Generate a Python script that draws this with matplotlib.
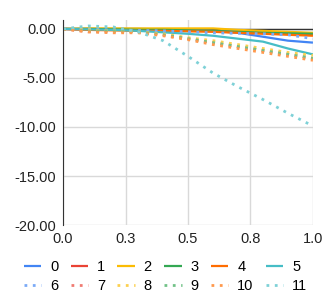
import matplotlib
matplotlib.use('Agg')
import matplotlib.pyplot as plt

plt.rcParams['font.family'] = ['Liberation Sans', 'DejaVu Sans']

# x positions and series values
x = [0.0, 0.1, 0.2, 0.3, 0.4, 0.5, 0.6, 0.7, 0.8, 0.9, 1.0]
s0 = [0, 0, 0, 0, -0.05, -0.1, -0.2, -0.4, -0.8, -1.2, -1.4]
s1 = [0, -0.05, -0.1, -0.1, -0.1, -0.15, -0.2, -0.3, -0.4, -0.5, -0.6]
s2 = [0, 0.05, 0.05, 0.05, 0.05, 0.05, 0.05, -0.1, -0.2, -0.3, -0.4]
s3 = [0, 0, -0.05, -0.1, -0.1, -0.15, -0.2, -0.3, -0.4, -0.45, -0.5]
s4 = [0, -0.1, -0.15, -0.2, -0.2, -0.25, -0.3, -0.4, -0.5, -0.6, -0.7]
s5 = [0, -0.05, -0.1, -0.2, -0.35, -0.5, -0.7, -1.0, -1.3, -2.0, -2.6]
s6 = [0, -0.05, -0.1, -0.15, -0.2, -0.3, -0.4, -0.45, -0.5, -0.6, -1.0]
s7 = [0, -0.3, -0.3, -0.3, -0.6, -1.0, -1.4, -1.8, -2.2, -2.6, -3.0]
s8 = [0, -0.1, -0.2, -0.3, -0.5, -0.9, -1.2, -1.6, -2.0, -2.4, -2.7]
s9 = [0, -0.2, -0.2, -0.3, -0.6, -1.0, -1.4, -1.8, -2.2, -2.6, -3.0]
s10 = [0, -0.3, -0.4, -0.4, -0.7, -1.1, -1.6, -2.0, -2.4, -2.8, -3.2]
s11 = [0, 0.3, 0.2, -0.3, -1.2, -2.8, -4.5, -5.9, -7.2, -8.6, -9.9]

series = [s0, s1, s2, s3, s4, s5, s6, s7, s8, s9, s10, s11]
names = [str(i) for i in range(12)]
colors = ['#4285F4', '#EA4335', '#FBBC04', '#34A853', '#FF6D01', '#46BDC6',
          '#7BAAF7', '#F07B72', '#FCD04F', '#71C287', '#FF994D', '#7ED1D7']

xticks = [0.0, 0.25, 0.5, 0.75, 1.0]
xlabels = ['0.0', '0.3', '0.5', '0.8', '1.0']
yticks = [0, -5, -10, -15, -20]

fig = plt.figure(figsize=(3.27, 2.95), dpi=100)
ax = fig.add_axes([0.193, 0.237, 0.764, 0.695])

lines = []
for i, s in enumerate(series):
    if i < 6:
        l, = ax.plot(x, s, color=colors[i], lw=1.6, label=names[i], solid_capstyle='butt')
    else:
        l, = ax.plot(x, s, color=colors[i], lw=2, linestyle=(0, (1, 2)), label=names[i])
    lines.append(l)

ax.axhline(0, color='#333333', lw=1, zorder=1)
ax.set_xlim(0, 1)
ax.set_ylim(-20, 0.9)
ax.set_xticks(xticks)
ax.set_xticklabels(xlabels)
ax.set_yticks(yticks)
ax.set_yticklabels(['%.2f' % v for v in yticks])
ax.grid(True, color='#d9d9d9', lw=1)
ax.set_axisbelow(True)
for sp in ['top', 'right', 'bottom']:
    ax.spines[sp].set_visible(False)
ax.spines['left'].set_color('#333333')
ax.tick_params(length=0, labelsize=10.5, colors='#222222', pad=5)

# legend filled row by row (0-5 on top, 6-11 below)
order = []
for c in range(6):
    order += [c, c + 6]
ax.legend([lines[k] for k in order], [names[k] for k in order],
          loc='upper center', bbox_to_anchor=(0.41, -0.14), ncol=6, frameon=False,
          fontsize=10.5, handlelength=1.2, handletextpad=0.6, columnspacing=0.85,
          labelspacing=0.35, borderaxespad=0)

fig.savefig('out.png', dpi=100)
